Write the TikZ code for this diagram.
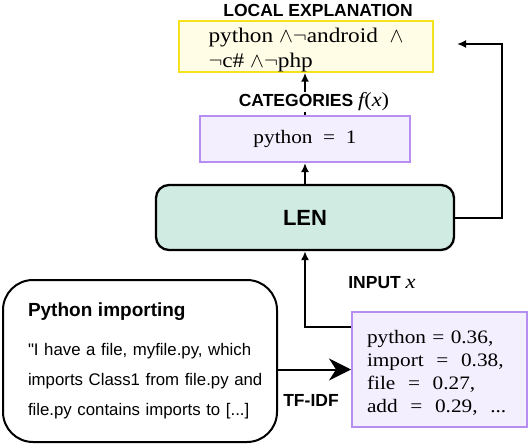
\RequirePackage{fix-cm}
\documentclass[tikz,border=0pt]{standalone}
\usepackage{fontspec}
\setmainfont{Liberation Sans}
\newfontfamily\serifw[FakeStretch=1.12]{Liberation Serif}
\usetikzlibrary{arrows.meta}
\definecolor{ybord}{HTML}{F5E11C}
\definecolor{yfill}{HTML}{FFFDE6}
\definecolor{pbord}{HTML}{B68EF2}
\definecolor{pfill}{HTML}{F4EFFE}
\definecolor{lfill}{HTML}{CFEBE2}
\newcommand{\varit}[1]{{\mdseries\serifw\fontsize{20}{20}\selectfont\itshape #1}}
\newcommand{\varup}[1]{{\mdseries\serifw\fontsize{20}{20}\selectfont #1}}
\tikzset{
  lbl/.style={font=\fontsize{17.5}{21}\selectfont\bfseries, inner sep=1pt},
  ybox/.style={draw=ybord, fill=yfill, line width=2pt, minimum width=254pt, minimum height=47pt, align=left, inner sep=0pt,
    font=\serifw\fontsize{20.8}{25}\selectfont},
  pbox/.style={draw=pbord, fill=pfill, line width=2pt, inner sep=0pt,
    font=\serifw\fontsize{19}{23}\selectfont},
  lenbox/.style={draw=black, fill=lfill, line width=2.3pt, rounded corners=13pt, minimum width=298pt, minimum height=65pt,
    font=\fontsize{22}{26}\selectfont\bfseries},
  docbox/.style={draw=black, fill=white, line width=2pt, rounded corners=30pt, minimum width=274pt, minimum height=162pt,
    text width=224pt, inner xsep=0pt, align=left, font=\fontsize{16.8}{30}\selectfont},
  conn/.style={line width=2pt},
  arr/.style={conn, -{Latex[length=9pt,width=8pt]}},
  bigarr/.style={conn, -{Stealth[length=22pt,width=22pt,inset=7pt]}}
}
\begin{document}
\begin{tikzpicture}[x=1pt,y=-1pt]
\useasboundingbox (0,0) rectangle (528,444);
% title
\node[lbl] (title) at (318,10) {LOCAL EXPLANATION};
% explanation box
\node[ybox] (expl) at (306,46.5) {\rule{0pt}{21pt}python $\land\neg$android~~$\land$\\$\neg$c\# $\land\neg$php};
% categories box
\node[pbox, minimum width=210pt, minimum height=46pt] (cat) at (305,139) {python~~=~~1};
% LEN
\node[lenbox] (len) at (305,217.5) {LEN};
% input box
\node[pbox, minimum width=175pt, minimum height=115pt, text width=145pt, inner xsep=15pt, align=left] (inp) at (439.5,369.5)
  {\rule{0pt}{20pt}python = 0.36,\\ import~~=~~0.38,\\ file~~=~~0.27,\\ add~~=~~0.29,~~...};
% document box
\node[docbox] (doc) at (140,361)
  {\mbox{\fontsize{19}{19}\selectfont\bfseries Python importing}\\[9pt]
   \mbox{\textquotedbl I have a file, myfile.py, which}\\
   \mbox{imports Class1 from file.py and}\\
   \mbox{file.py contains imports to [...]}};
% coordinates for the feedback arrow
\coordinate (bend) at (502,44);
\coordinate (rt) at (457,44);
% connectors
\draw[arr] (len.north) -- (cat.south);
\draw[arr] (cat.north) -- ([xshift=-1pt]expl.south);
\draw[arr] (len.east) -| (bend) -- (rt);
\draw[arr] ([yshift=-16pt]inp.north west) -| (len.south);
\draw[bigarr] (doc.east |- inp.west) -- (inp.west);
% labels
\node[lbl, fill=white] (catlbl) at (314,102) {CATEGORIES \varit{f}\varup{(}\varit{x}\varup{)}};
\node[lbl] (inlbl) at (382,283) {INPUT \varit{x}};
\node[lbl] (tfidf) at (311,400) {TF-IDF};
\end{tikzpicture}
\end{document}
